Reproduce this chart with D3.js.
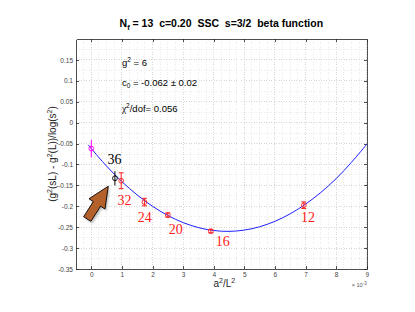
<!DOCTYPE html>
<html lang="en">
<head>
<meta charset="UTF-8">
<title>beta function</title>
<script src="https://cdn.jsdelivr.net/npm/d3@7"></script>
<style>
    body { margin: 0; background: #fff; }
    svg text { white-space: pre; }
    .axis text { font-family: "Liberation Sans", Arial, sans-serif; font-size: 6.5px; fill: #444; }
    .axis line, .axis path { stroke: #262626; stroke-width: 0.8; shape-rendering: crispEdges; }
    .grid line { stroke: #c8c8c8; stroke-width: 0.6; stroke-dasharray: 1,1.5; shape-rendering: crispEdges; }
    .grid.minor line { stroke: #dedede; }
</style>
</head>
<body>
<svg width="415" height="312" id="mainsvg"></svg>
<script>
// lattice sizes L, a^2/L^2 (x 10^-3), measured beta values and errors
const latticeL = [36, 32, 24, 20, 16, 12];
const a2L2 = [0.772, 0.977, 1.736, 2.5, 3.906, 6.944];
const betaVal = [-0.133, -0.139, -0.190, -0.221, -0.2595, -0.1975];
const betaErr = [0.017, 0.019, 0.009, 0.005, 0.004, 0.008];
const pointColor = ['#000000', '#ff2020', '#ff2020', '#ff2020', '#ff2020', '#ff2020'];

// where the L labels sit (data units)
const labelX = [0.53, 0.86, 1.52, 2.53, 4.07, 6.85];
const labelY = [-0.100, -0.196, -0.237, -0.267, -0.295, -0.237];

// continuum extrapolated value
const c0X = 0;
const c0Val = -0.062;
const c0Err = 0.021;

// quadratic fit curve
const fitX = [-0.1, 0, 0.5, 1, 1.5, 2, 2.5, 3, 3.5, 4, 4.5, 5, 5.5, 6, 6.5, 7, 7.5, 8, 8.5, 9];
const fitY = [-0.053, -0.062, -0.104, -0.141, -0.173, -0.200, -0.222, -0.239, -0.251, -0.258,
              -0.260, -0.257, -0.249, -0.236, -0.218, -0.195, -0.167, -0.134, -0.095, -0.052];

const xTicks = [0, 1, 2, 3, 4, 5, 6, 7, 8, 9];
const yTicks = [-0.35, -0.3, -0.25, -0.2, -0.15, -0.1, -0.05, 0, 0.05, 0.1, 0.15];
const yTickLabels = ['-0.35', '-0.3', '-0.25', '-0.2', '-0.15', '-0.1', '-0.05', '0', '0.05', '0.1', '0.15'];

const svg = d3.select('#mainsvg');
const margin = { top: 39, right: 48.3, bottom: 43, left: 76 };
const width = +svg.attr('width');
const height = +svg.attr('height');
const innerWidth = width - margin.left - margin.right;
const innerHeight = height - margin.top - margin.bottom;

const g = svg.append('g').attr('transform', `translate(${margin.left}, ${margin.top})`);

const xScale = d3.scaleLinear().domain([-0.5, 9]).range([0, innerWidth]);
const yScale = d3.scaleLinear().domain([-0.35, 0.2]).range([innerHeight, 0]);

// minor grid
const xMinor = d3.range(-0.5, 9.001, 0.25);
const yMinor = d3.range(-0.35, 0.2001, 0.025);
g.append('g').attr('class', 'grid minor').selectAll('line').data(xMinor).join('line')
    .attr('x1', d => xScale(d)).attr('x2', d => xScale(d)).attr('y1', 0).attr('y2', innerHeight);
g.append('g').attr('class', 'grid minor').selectAll('line').data(yMinor).join('line')
    .attr('y1', d => yScale(d)).attr('y2', d => yScale(d)).attr('x1', 0).attr('x2', innerWidth);
// major grid
g.append('g').attr('class', 'grid').selectAll('line').data(xTicks).join('line')
    .attr('x1', d => xScale(d)).attr('x2', d => xScale(d)).attr('y1', 0).attr('y2', innerHeight);
g.append('g').attr('class', 'grid').selectAll('line').data(yTicks).join('line')
    .attr('y1', d => yScale(d)).attr('y2', d => yScale(d)).attr('x1', 0).attr('x2', innerWidth);

// axes, ticks pointing inwards on all four sides
g.append('g').attr('class', 'axis').attr('transform', `translate(0, ${innerHeight})`)
    .call(d3.axisBottom(xScale).tickValues(xTicks).tickSize(-3).tickPadding(3).tickSizeOuter(0));
g.append('g').attr('class', 'axis')
    .call(d3.axisTop(xScale).tickValues(xTicks).tickSize(-3).tickSizeOuter(0))
    .call(a => a.selectAll('text').remove());
g.append('g').attr('class', 'axis')
    .call(d3.axisLeft(yScale).tickValues(yTicks).tickSize(-3).tickPadding(3).tickSizeOuter(0)
        .tickFormat((d, i) => yTickLabels[i]));
g.append('g').attr('class', 'axis').attr('transform', `translate(${innerWidth}, 0)`)
    .call(d3.axisRight(yScale).tickValues(yTicks).tickSize(-3).tickSizeOuter(0))
    .call(a => a.selectAll('text').remove());

// fit curve
const fitData = fitX.map((x, i) => ({ x: x, y: fitY[i] }));
g.append('path').datum(fitData)
    .attr('fill', 'none').attr('stroke', '#1f1fff').attr('stroke-width', 1)
    .attr('d', d3.line().x(d => xScale(d.x)).y(d => yScale(d.y)).curve(d3.curveCatmullRom));

// measured points with error bars
const pts = latticeL.map((L, i) => ({
    L: L, x: a2L2[i], y: betaVal[i], e: betaErr[i], c: pointColor[i],
    lx: labelX[i], ly: labelY[i], cap: L !== 36
}));
pts.push({ L: null, x: c0X, y: c0Val, e: c0Err, c: '#ff00ff', cap: false });

const pg = g.append('g');
pg.selectAll('.ebar').data(pts).join('line').attr('class', 'ebar')
    .attr('x1', d => xScale(d.x)).attr('x2', d => xScale(d.x))
    .attr('y1', d => yScale(d.y - d.e)).attr('y2', d => yScale(d.y + d.e))
    .attr('stroke', d => d.c).attr('stroke-width', 1);
pg.selectAll('.capTop').data(pts.filter(d => d.cap)).join('line').attr('class', 'capTop')
    .attr('x1', d => xScale(d.x) - 2.5).attr('x2', d => xScale(d.x) + 2.5)
    .attr('y1', d => yScale(d.y + d.e)).attr('y2', d => yScale(d.y + d.e))
    .attr('stroke', d => d.c).attr('stroke-width', 1);
pg.selectAll('.capBot').data(pts.filter(d => d.cap)).join('line').attr('class', 'capBot')
    .attr('x1', d => xScale(d.x) - 2.5).attr('x2', d => xScale(d.x) + 2.5)
    .attr('y1', d => yScale(d.y - d.e)).attr('y2', d => yScale(d.y - d.e))
    .attr('stroke', d => d.c).attr('stroke-width', 1);
pg.selectAll('circle').data(pts).join('circle')
    .attr('cx', d => xScale(d.x)).attr('cy', d => yScale(d.y)).attr('r', 2.4)
    .attr('fill', 'none').attr('stroke', d => d.c).attr('stroke-width', 0.9);

// L labels
g.selectAll('.lab').data(pts.filter(d => d.L !== null)).join('text').attr('class', 'lab')
    .attr('x', d => xScale(d.lx)).attr('y', d => yScale(d.ly))
    .attr('font-family', '"Liberation Serif", "Times New Roman", serif')
    .attr('font-size', 14)
    .attr('fill', d => d.L === 36 ? '#000' : '#ff2020')
    .text(d => d.L);

// arrow pointing at the L=36 point
const arrowTip = { x: 0.556, y: -0.152 };
const arrowShape = 'M0,0 L-21,-9.5 L-21,-4.3 L-39,-4.3 L-39,4.3 L-21,4.3 L-21,9.5 Z';
const defs = svg.append('defs');
const filt = defs.append('filter').attr('id', 'shadow').attr('x', '-50%').attr('y', '-50%')
    .attr('width', '200%').attr('height', '200%');
filt.append('feGaussianBlur').attr('stdDeviation', 1);
g.append('path').attr('d', arrowShape)
    .attr('transform', `translate(${xScale(arrowTip.x) + 1.5}, ${yScale(arrowTip.y) + 2}) rotate(-57.3)`)
    .attr('fill', '#888').attr('opacity', 0.6).attr('filter', 'url(#shadow)');
g.append('path').attr('d', arrowShape)
    .attr('transform', `translate(${xScale(arrowTip.x)}, ${yScale(arrowTip.y)}) rotate(-57.3)`)
    .attr('fill', '#b4602a').attr('stroke', '#000').attr('stroke-width', 0.8)
    .attr('stroke-linejoin', 'round');

// fit annotations
const ann = g.append('g').attr('font-family', '"Liberation Sans", Arial, sans-serif')
    .attr('font-size', 9.5).attr('fill', '#000');
const t1 = ann.append('text').attr('x', xScale(1)).attr('y', yScale(0.135));
t1.append('tspan').text('g');
t1.append('tspan').attr('dy', -4).attr('font-size', 6.5).text('2');
t1.append('tspan').attr('dy', 4).text(' = 6');
const t2 = ann.append('text').attr('x', xScale(1)).attr('y', yScale(0.088));
t2.append('tspan').text('c');
t2.append('tspan').attr('dy', 2.5).attr('font-size', 6.5).text('0');
t2.append('tspan').attr('dy', -2.5).text(' = -0.062 \u00b1 0.02');
const t3 = ann.append('text').attr('x', xScale(1)).attr('y', yScale(0.026));
t3.append('tspan').attr('font-family', '"Liberation Serif", serif').text('\u03c7');
t3.append('tspan').attr('dy', -4).attr('font-size', 6.5).text('2');
t3.append('tspan').attr('dy', 4).text('/dof= 0.056');

// title
const title = svg.append('text').attr('x', margin.left + innerWidth / 2).attr('y', 27)
    .attr('text-anchor', 'middle').attr('font-family', '"Liberation Sans", Arial, sans-serif')
    .attr('font-size', 10.5).attr('font-weight', 'bold').attr('fill', '#000');
title.append('tspan').text('N');
title.append('tspan').attr('dy', 2.5).attr('font-size', 7.5).text('f');
title.append('tspan').attr('dy', -2.5).text(' = 13  c=0.20  SSC  s=3/2  beta function');

// x label and exponent
const xl = svg.append('text').attr('x', margin.left + innerWidth / 2 + 3).attr('y', 286.5)
    .attr('text-anchor', 'middle').attr('font-family', '"Liberation Sans", Arial, sans-serif')
    .attr('font-size', 10).attr('fill', '#262626');
xl.append('tspan').text('a');
xl.append('tspan').attr('dy', -4).attr('font-size', 7).text('2');
xl.append('tspan').attr('dy', 4).text('/L');
xl.append('tspan').attr('dy', -4).attr('font-size', 7).text('2');

const ex = svg.append('text').attr('x', margin.left + innerWidth).attr('y', 287)
    .attr('text-anchor', 'end').attr('font-family', '"Liberation Sans", Arial, sans-serif')
    .attr('font-size', 5.5).attr('fill', '#555');
ex.append('tspan').text('\u00d7 10');
ex.append('tspan').attr('dy', -2.5).attr('font-size', 4.5).text('-3');

// y label
const yl = svg.append('text')
    .attr('transform', `translate(56, ${margin.top + innerHeight / 2}) rotate(-90)`)
    .attr('text-anchor', 'middle').attr('font-family', '"Liberation Sans", Arial, sans-serif')
    .attr('font-size', 10).attr('fill', '#262626');
yl.append('tspan').text('(g');
yl.append('tspan').attr('dy', -4).attr('font-size', 7).text('2');
yl.append('tspan').attr('dy', 4).text('(sL) - g');
yl.append('tspan').attr('dy', -4).attr('font-size', 7).text('2');
yl.append('tspan').attr('dy', 4).text('(L))/log(s');
yl.append('tspan').attr('dy', -4).attr('font-size', 7).text('2');
yl.append('tspan').attr('dy', 4).text(')');
</script>
</body>
</html>
